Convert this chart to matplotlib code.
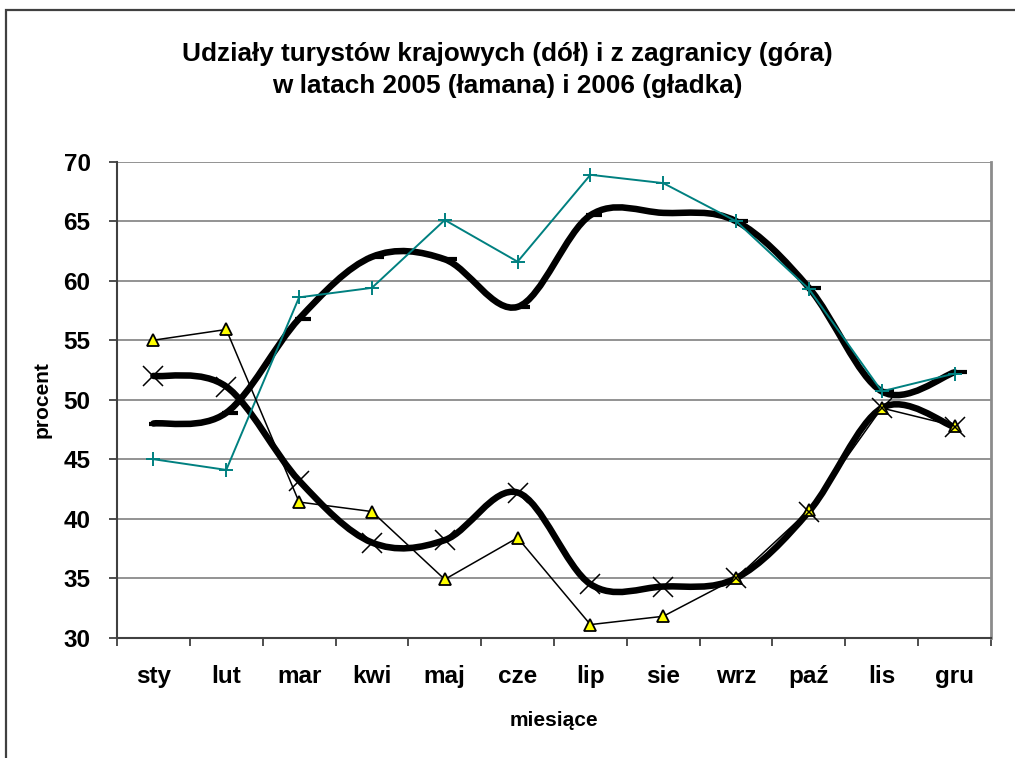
import numpy as np
import matplotlib
matplotlib.use('Agg')
import matplotlib.pyplot as plt
from matplotlib.path import Path
from matplotlib.patches import PathPatch, Rectangle

plt.rcParams['font.family'] = ['Liberation Sans', 'DejaVu Sans']

#%% data
months = ['sty', 'lut', 'mar', 'kwi', 'maj', 'cze', 'lip', 'sie', 'wrz', 'paź', 'lis', 'gru']
zagr_2005 = [45.0, 44.1, 58.6, 59.4, 65.1, 61.6, 68.9, 68.2, 65.0, 59.3, 50.7, 52.2]
kraj_2005 = [55.0, 55.9, 41.4, 40.6, 34.9, 38.4, 31.1, 31.8, 35.0, 40.7, 49.3, 47.8]
zagr_2006 = [48.0, 48.9, 56.8, 62.0, 61.8, 57.8, 65.5, 65.7, 65.0, 59.4, 50.7, 52.3]
kraj_2006 = [52.0, 51.1, 43.2, 38.0, 38.2, 42.2, 34.5, 34.3, 35.0, 40.6, 49.3, 47.7]
yticks = [30, 35, 40, 45, 50, 55, 60, 65, 70]


def smooth_path(xs, ys):
    # Excel-like smoothed line: cubic Bezier segments, Catmull-Rom control points
    p = np.column_stack([xs, ys]).astype(float)
    n = len(p)
    verts = [p[0]]
    codes = [Path.MOVETO]
    for i in range(n - 1):
        prev = p[i - 1] if i > 0 else p[i]
        nxt = p[i + 2] if i + 2 < n else p[i + 1]
        c1 = p[i] + (p[i + 1] - prev) / 6.0
        c2 = p[i + 1] - (nxt - p[i]) / 6.0
        verts += [c1, c2, p[i + 1]]
        codes += [Path.CURVE4] * 3
    return Path(verts, codes)


fig = plt.figure(figsize=(10.15, 7.58), dpi=100)
ax = fig.add_axes([117 / 1015, 1 - 637.7 / 758, (991 - 117) / 1015, (637.7 - 161.7) / 758])

x = np.arange(len(months))

# 2006 - smooth thick lines
for ys in (zagr_2006, kraj_2006):
    ax.add_patch(PathPatch(smooth_path(x, ys), facecolor='none', edgecolor='black',
                           lw=4.7, capstyle='round', joinstyle='round', zorder=3))
ax.plot(x, zagr_2006, linestyle='none', marker=[(-0.3, 0), (1, 0)], markersize=17,
        mew=3, mec='black', zorder=4)
ax.plot(x, kraj_2006, linestyle='none', marker='x', markersize=15, mew=1.1,
        color='black', zorder=6)

# 2005 - broken thin lines
ax.plot(x, zagr_2005, color='#008080', lw=1.4, marker='+', markersize=10, mew=1.4, zorder=4)
ax.plot(x, kraj_2005, color='black', lw=1.1, marker='^', markersize=9,
        mfc='#FFFF00', mec='black', mew=1.3, zorder=5)

ax.set_xlim(-0.5, len(months) - 0.5)
ax.set_ylim(30, 70)
ax.set_yticks(yticks)
ax.set_yticklabels([str(v) for v in yticks], fontsize=17.5, fontweight='bold')
ax.set_xticks(x)
ax.set_xticklabels(months, fontsize=17.5, fontweight='bold')
ax.set_xticks(np.arange(-0.5, len(months)), minor=True)
ax.tick_params(axis='x', which='major', length=0, pad=20)
ax.tick_params(axis='x', which='minor', length=6, width=1.3, color='#404040', direction='out')
ax.tick_params(axis='y', length=6, width=1.3, color='#404040', direction='out', pad=13)

ax.grid(axis='y', color='#808080', lw=1.2)
ax.set_axisbelow(True)
for s in ('left', 'bottom'):
    ax.spines[s].set_color('#404040')
    ax.spines[s].set_linewidth(1.5)
ax.spines['right'].set_color('#8c8c8c')
ax.spines['right'].set_linewidth(2)
ax.spines['top'].set_visible(False)

ax.set_ylabel('procent', fontsize=15, fontweight='bold', labelpad=9)
ax.set_xlabel('miesiące', fontsize=15, fontweight='bold', labelpad=16)

fig.text(0.5, 1 - 70 / 758,
         'Udziały turystów krajowych (dół) i z zagranicy (góra)\n'
         'w latach 2005 (łamana) i 2006 (gładka)',
         ha='center', va='center', fontsize=18.8, fontweight='bold', linespacing=1.45)

# outer chart frame
fig.patches.append(Rectangle((6 / 1015, -0.1), 2, 1.1 - 10 / 758, transform=fig.transFigure,
                             fill=False, edgecolor='#404040', lw=1.6))

fig.savefig('out.png', dpi=100)
